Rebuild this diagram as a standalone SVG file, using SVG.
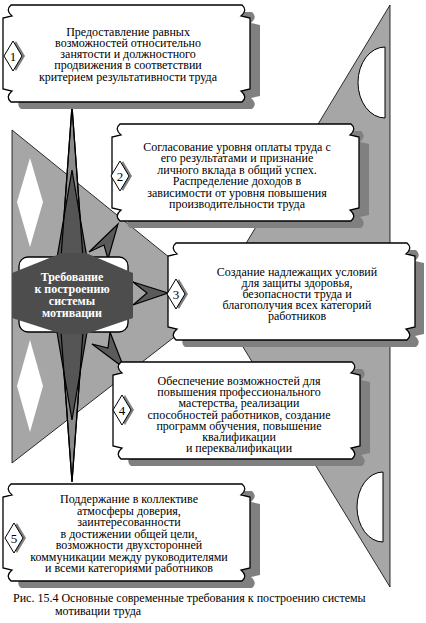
<svg xmlns="http://www.w3.org/2000/svg" width="426" height="623" viewBox="0 0 426 623">
<defs>
<style>
.bg{fill:#a6a6a6;stroke:#000;stroke-width:0.8}
.hole{fill:#fff;stroke:#000;stroke-width:1}
.wd{fill:#fff}
.scroll{fill:#fff;stroke:#000;stroke-width:1.3}
.shadow{fill:#808080}
.dia{fill:#fff;stroke:#000;stroke-width:1}
.dsh{fill:#808080}
text{font-family:'Liberation Serif','DejaVu Serif','Times New Roman',serif}
.t{font-size:12px;fill:#000;text-anchor:middle}
.num{font-size:13px;fill:#000;text-anchor:middle}
.ct{font-size:12px;font-weight:bold;fill:#fff;text-anchor:middle}
.cap{font-size:12px;fill:#000}
.spk{stroke:#000;stroke-width:1.2;stroke-linejoin:miter}
.line{fill:none;stroke:#000;stroke-width:1.2}
</style>
<path id="scroll" d="M8,0 H239 Q245,5 238,11 L247,13 V84 L238,86 Q245,92 239,97 H8 Q2,92 9,86 L0,84 V13 L9,11 Q2,5 8,0 Z"/>
<path id="dm" d="M0,-15 L9,0 L0,15 L-9,0 Z"/>
</defs>

<g id="background">
<polygon class="bg" points="390,5 213,298 390,587"/>
<polygon class="bg" points="12,130 222,300 12,463"/>
<path class="hole" d="M385,47 A27,35.5 0 0 0 385,118 Z"/>
<path class="hole" d="M383,472 A26,35 0 0 0 383,542 Z"/>
<polygon class="wd" points="30,158 43,202 30,247 17,202"/>
<polygon class="wd" points="30,340 43,386 30,432 17,386"/>
</g>

<g id="connectors">
<polygon class="spk" fill="#8c8c8c" points="72,106 61,258 83,258"/>
<polygon class="spk" fill="#555" points="72,170 57,258 87,258"/>
<polygon class="line" points="72,106 61,258 83,258"/>
<polygon class="spk" fill="#8c8c8c" points="72,482 61,332 83,332"/>
<polygon class="spk" fill="#555" points="72,420 57,332 87,332"/>
<polygon class="line" points="72,482 61,332 83,332"/>
<polygon class="spk" fill="#5a5a5a" points="89,252 118,224 108,259 104,245"/>
<polygon class="spk" fill="#5a5a5a" points="133,282 168,293 133,305 147,293"/>
<polygon class="spk" fill="#5a5a5a" points="110,332 124,368 92,344 108,348"/>
</g>

<g id="node1">
<use href="#scroll" x="13" y="12" class="shadow"/>
<use href="#scroll" x="3" y="5" class="scroll"/>
<use href="#dm" x="16" y="56" class="dsh"/>
<use href="#dm" x="13" y="56" class="dia"/>
<text class="num" x="13" y="60.5" font-family="Liberation Serif, DejaVu Serif, serif">1</text>
<text class="t" x="128" y="35.5" font-family="Liberation Serif, DejaVu Serif, serif"><tspan x="128">Предоставление равных</tspan><tspan x="128" dy="11.3">возможностей относительно</tspan><tspan x="128" dy="11.3">занятости и должностного</tspan><tspan x="128" dy="11.3">продвижения в соответствии</tspan><tspan x="128" dy="11.3">критерием результативности труда</tspan></text>
</g>

<g id="node2">
<use href="#scroll" x="122" y="131" class="shadow"/>
<use href="#scroll" x="112" y="124" class="scroll"/>
<use href="#dm" x="123" y="176" class="dsh"/>
<use href="#dm" x="120" y="176" class="dia"/>
<text class="num" x="120" y="180.5" font-family="Liberation Serif, DejaVu Serif, serif">2</text>
<text class="t" x="237" y="151" font-family="Liberation Serif, DejaVu Serif, serif"><tspan x="237">Согласование уровня оплаты труда с</tspan><tspan x="237" dy="11.4">его результатами и признание</tspan><tspan x="237" dy="11.4">личного вклада в общий успех.</tspan><tspan x="237" dy="11.4">Распределение доходов в</tspan><tspan x="237" dy="11.4">зависимости от уровня повышения</tspan><tspan x="237" dy="11.4">производительности труда</tspan></text>
</g>

<g id="node3">
<use href="#scroll" x="177" y="250" class="shadow"/>
<use href="#scroll" x="168" y="243" class="scroll"/>
<use href="#dm" x="179" y="294" class="dsh"/>
<use href="#dm" x="176" y="294" class="dia"/>
<text class="num" x="176" y="298.5" font-family="Liberation Serif, DejaVu Serif, serif">3</text>
<text class="t" x="297" y="276" font-family="Liberation Serif, DejaVu Serif, serif"><tspan x="297">Создание надлежащих условий</tspan><tspan x="297" dy="11">для защиты здоровья,</tspan><tspan x="297" dy="11">безопасности труда и</tspan><tspan x="297" dy="11">благополучия всех категорий</tspan><tspan x="297" dy="11">работников</tspan></text>
</g>

<g id="node4">
<use href="#scroll" x="123" y="369" class="shadow"/>
<use href="#scroll" x="113" y="362" class="scroll"/>
<use href="#dm" x="125" y="410" class="dsh"/>
<use href="#dm" x="122" y="410" class="dia"/>
<text class="num" x="122" y="414.5" font-family="Liberation Serif, DejaVu Serif, serif">4</text>
<text class="t" x="239" y="385" font-family="Liberation Serif, DejaVu Serif, serif"><tspan x="239">Обеспечение возможностей для</tspan><tspan x="239" dy="11.2">повышения профессионального</tspan><tspan x="239" dy="11.2">мастерства, реализации</tspan><tspan x="239" dy="11.2">способностей работников, создание</tspan><tspan x="239" dy="11.2">программ обучения, повышение</tspan><tspan x="239" dy="11.2">квалификации</tspan><tspan x="239" dy="11.2">и переквалификации</tspan></text>
</g>

<g id="node5">
<use href="#scroll" x="13" y="491" class="shadow"/>
<use href="#scroll" x="3" y="484" class="scroll"/>
<use href="#dm" x="17" y="538" class="dsh"/>
<use href="#dm" x="14" y="538" class="dia"/>
<text class="num" x="14" y="542.5" font-family="Liberation Serif, DejaVu Serif, serif">5</text>
<text class="t" x="129" y="503" font-family="Liberation Serif, DejaVu Serif, serif"><tspan x="129">Поддержание в коллективе</tspan><tspan x="129" dy="11.5">атмосферы доверия,</tspan><tspan x="129" dy="11.5">заинтересованности</tspan><tspan x="129" dy="11.5">в достижении общей цели,</tspan><tspan x="129" dy="11.5">возможности двухсторонней</tspan><tspan x="129" dy="11.5">коммуникации между руководителями</tspan><tspan x="129" dy="11.5">и всеми категориями работников</tspan></text>
</g>

<g id="center">
<rect x="19" y="257" width="109" height="75" rx="9" fill="#fff" stroke="#000" stroke-width="1.3"/>
<polygon points="12,273 62,253 86,253 133,273 133,318 86,334 62,334 12,318" fill="#4d4d4d"/>
<text class="ct" x="72" y="281" font-family="Liberation Serif, DejaVu Serif, serif"><tspan x="72">Требование</tspan><tspan x="72" dy="12">к построению</tspan><tspan x="72" dy="12">системы</tspan><tspan x="72" dy="12">мотивации</tspan></text>
</g>

<g id="caption">
<text class="cap" x="13" y="602" font-family="Liberation Serif, DejaVu Serif, serif">Рис. 15.4 Основные современные требования к построению системы</text>
<text class="cap" x="55" y="615" font-family="Liberation Serif, DejaVu Serif, serif">мотивации труда</text>
</g>
</svg>
